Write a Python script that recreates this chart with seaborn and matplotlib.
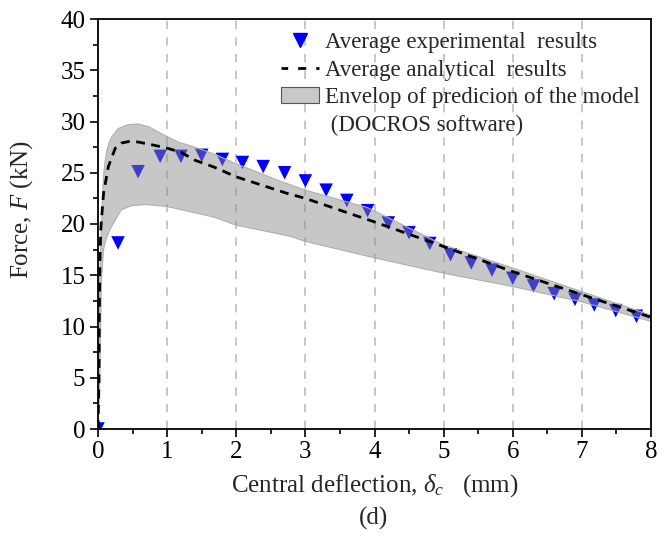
import matplotlib
matplotlib.use("Agg")
import matplotlib.pyplot as plt
import seaborn as sns
import pandas as pd
import numpy as np
from matplotlib.lines import Line2D
from matplotlib.patches import Patch
from matplotlib.ticker import MultipleLocator

# ---------------- data ----------------
exp_x = [0.0, 0.29, 0.58, 0.90, 1.20, 1.50, 1.80, 2.09, 2.39, 2.70, 3.00, 3.30, 3.60, 3.90,
         4.20, 4.50, 4.80, 5.10, 5.40, 5.70, 6.00, 6.30, 6.60, 6.90, 7.18, 7.49, 7.79]
exp_y = [0.0, 18.15, 25.1, 26.6, 26.6, 26.7, 26.3, 26.0, 25.6, 25.0, 24.2, 23.3, 22.3, 21.3,
         20.1, 19.15, 18.1, 17.0, 16.2, 15.5, 14.7, 13.95, 13.2, 12.65, 12.1, 11.55, 11.0]

ana_x = [0.0, 0.015, 0.018, 0.03, 0.04, 0.05, 0.08, 0.15, 0.25, 0.34, 0.45, 0.58, 0.8, 1.0,
         1.2, 1.41, 1.66, 2.0, 2.73, 3.0, 4.0, 5.0, 6.0, 7.0, 8.0]
ana_y = [0.0, 5.0, 11.0, 17.0, 19.4, 20.4, 23.0, 25.6, 27.4, 27.9, 28.05, 28.0, 27.7, 27.4,
         27.0, 26.2, 25.6, 24.6, 23.0, 22.5, 20.2, 17.8, 15.35, 13.1, 10.9]

up_x = [0.0, 0.01, 0.03, 0.05, 0.065, 0.08, 0.10, 0.13, 0.16, 0.20, 0.29, 0.44, 0.58, 0.73,
        0.92, 1.16, 1.40, 1.69, 1.99, 2.63, 3.0, 3.9, 4.2, 5.0, 6.0, 7.0, 8.0]
up_y = [0.0, 10.0, 16.0, 19.7, 22.6, 24.6, 26.0, 27.2, 27.95, 28.5, 29.3, 29.7, 29.76, 29.5,
        28.8, 28.0, 27.5, 26.8, 25.9, 24.2, 23.3, 21.6, 20.6, 17.95, 15.7, 13.4, 11.1]

lo_x = [0.0, 0.02, 0.03, 0.05, 0.08, 0.12, 0.17, 0.25, 0.34, 0.49, 0.69, 1.0, 1.40, 1.69,
        1.99, 2.78, 3.0, 4.0, 5.0, 6.0, 7.0, 8.0]
lo_y = [0.0, 3.0, 6.4, 14.5, 17.5, 18.6, 19.4, 20.4, 21.4, 21.8, 21.9, 21.7, 21.1, 20.65,
        19.9, 18.8, 18.3, 16.7, 15.2, 13.9, 12.4, 10.5]

x_ticks = [0, 1, 2, 3, 4, 5, 6, 7, 8]
y_ticks = [0, 5, 10, 15, 20, 25, 30, 35, 40]

# ---------------- style ----------------
sns.set_theme(style="ticks")
plt.rcParams["font.family"] = ["Liberation Serif", "DejaVu Serif"]
plt.rcParams["mathtext.fontset"] = "custom"
plt.rcParams["mathtext.rm"] = "Liberation Serif"
plt.rcParams["mathtext.it"] = "Liberation Serif:italic"

fig = plt.figure(figsize=(6.69, 5.37), dpi=100)
ax = fig.add_axes([98 / 669, 1 - 429 / 537, (651 - 98) / 669, (429 - 19) / 537])

# grid lines (vertical dashed)
for gx in x_ticks[1:-1]:
    ax.axvline(gx, color="#bdbdbd", lw=1.2, ls=(0, (5, 5)), zorder=1)

# envelope
grid = np.union1d(np.linspace(0, 8, 801), np.union1d(up_x, lo_x))
upper = np.interp(grid, up_x, up_y)
lower = np.interp(grid, lo_x, lo_y)
ax.fill_between(grid, lower, upper, facecolor=(0.537, 0.537, 0.537), alpha=0.47,
                edgecolor="none", zorder=3)
ax.plot(up_x, up_y, color="#b0b0b0", lw=0.8, zorder=3)
ax.plot(lo_x, lo_y, color="#b0b0b0", lw=0.8, zorder=3)

# experimental
df_exp = pd.DataFrame({"x": exp_x, "y": exp_y})
sns.scatterplot(data=df_exp, x="x", y="y", marker="v", s=95, color="#0000ff",
                edgecolor="none", linewidth=0, ax=ax, zorder=2, legend=False)

# analytical
df_ana = pd.DataFrame({"x": ana_x, "y": ana_y})
sns.lineplot(data=df_ana, x="x", y="y", color="black", lw=2.0, ax=ax, zorder=4,
             sort=False, legend=False, linestyle=(0, (3.2, 2.3)))

ax.set_xlim(0, 8)
ax.set_ylim(0, 40)
ax.set_xticks(x_ticks)
ax.set_yticks(y_ticks)
ax.xaxis.set_minor_locator(MultipleLocator(0.5))
ax.yaxis.set_minor_locator(MultipleLocator(2.5))
ax.tick_params(which="major", direction="out", length=6, width=1.2, labelsize=18,
               color="black", labelcolor="black", pad=3)
ax.tick_params(which="minor", direction="out", length=3.5, width=1.2, color="black")
for s in ax.spines.values():
    s.set_visible(True)
    s.set_linewidth(1.3)
    s.set_color("black")
    s.set_zorder(6)

ax.set_xlabel(r"Central deflection, $\delta_c$   (mm)", fontsize=18, labelpad=6)
ax.set_ylabel(r"Force, $F$ (kN)", fontsize=18)
ax.yaxis.set_label_coords((35 - 98) / 553, (429 - 209) / 410)

fig.text(374 / 669, 1 - 518 / 537, "(d)", ha="center", va="center", fontsize=18)

handles = [
    Line2D([], [], marker="v", ls="none", color="#0000ff", markersize=10),
    Line2D([], [], color="black", lw=2.0, ls=(0.5, (2.9, 3.6))),
    Patch(facecolor="#c8c8c8", edgecolor="#555555", lw=0.8),
    Line2D([], [], ls="none", marker=None),
]
labels = ["Average experimental  results", "Average analytical  results",
          "Envelop of predicion of the model", " (DOCROS software)"]
leg = fig.legend(handles, labels, loc="upper left",
                 bbox_to_anchor=(281 / 669, 1 - 32 / 537), frameon=False,
                 fontsize=16.5, handlelength=1.66, handletextpad=0.28,
                 labelspacing=0.29, borderpad=0, borderaxespad=0)

fig.savefig("out.png", dpi=100)
